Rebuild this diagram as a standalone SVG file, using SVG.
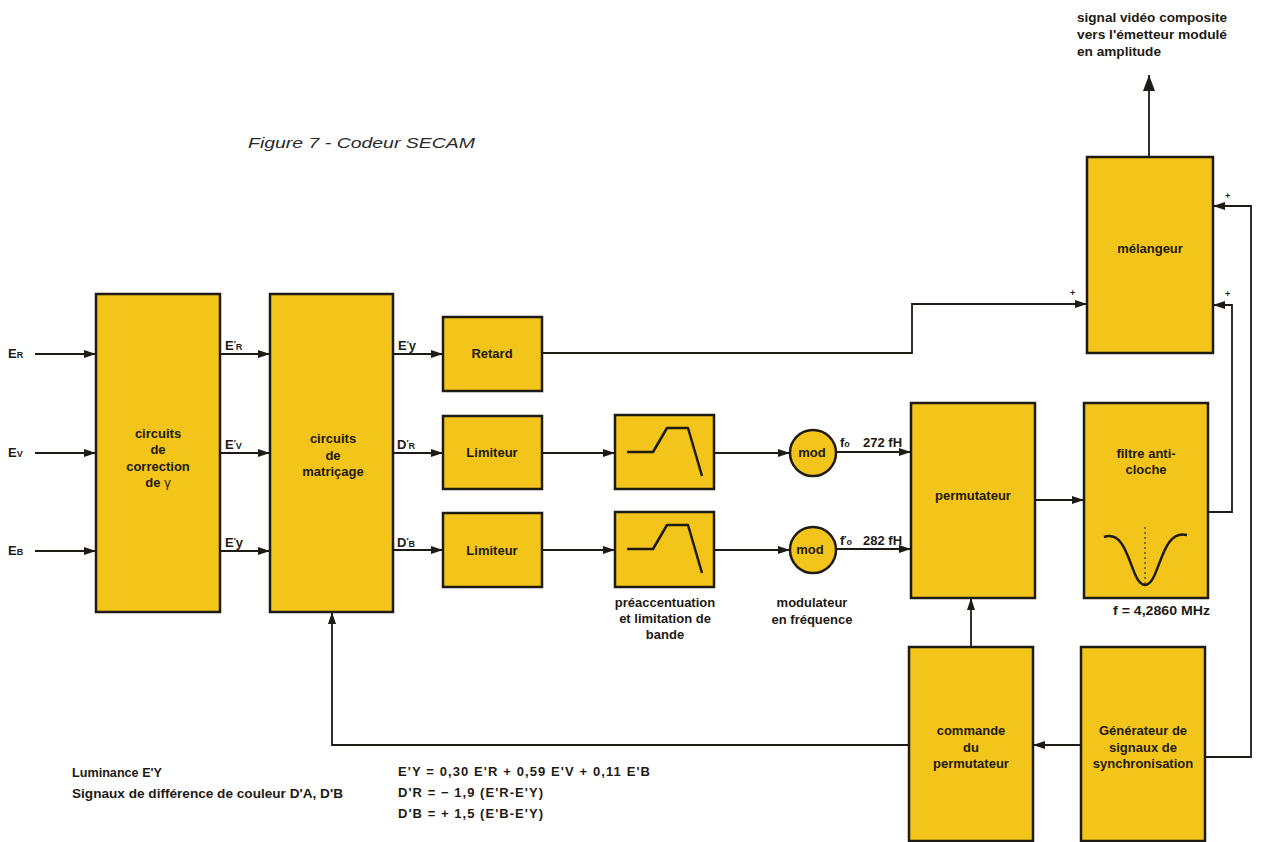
<svg xmlns="http://www.w3.org/2000/svg" width="1263" height="842" viewBox="0 0 1263 842">
<style>
.box{fill:#F3C51B;stroke:#1e1a14;stroke-width:2.5}
.t{font-family:"Liberation Sans",Arial,sans-serif;font-weight:bold;font-size:13px;fill:#1e1a14}
.tc{text-anchor:middle}
.s{font-size:9px}
.w{stroke:#1e1a14;stroke-width:1.8;fill:none}
.sym{stroke:#1e1a14;stroke-width:2.5;fill:none;stroke-linejoin:round}
</style>
<defs>
<marker id="ah" viewBox="0 0 12 8" refX="12" refY="4" markerWidth="12" markerHeight="8" markerUnits="userSpaceOnUse" orient="auto">
<path d="M0,0 L12,4 L0,8 Z" fill="#1e1a14"/>
</marker>
<marker id="ahb" viewBox="0 0 16 12" refX="16" refY="6" markerWidth="16" markerHeight="12" markerUnits="userSpaceOnUse" orient="auto">
<path d="M0,0 L16,6 L0,12 Z" fill="#1e1a14"/>
</marker>
</defs>
<rect width="1263" height="842" fill="#ffffff"/>

<text x="248" y="148" font-family="Liberation Sans,Arial,sans-serif" font-style="italic" font-size="15" fill="#2a2a2a" textLength="227" lengthAdjust="spacingAndGlyphs">Figure 7 - Codeur SECAM</text>

<g id="output-label" class="t">
<text x="1077" y="22" textLength="150" lengthAdjust="spacingAndGlyphs">signal vidéo composite</text>
<text x="1077" y="39" textLength="150" lengthAdjust="spacingAndGlyphs">vers l'émetteur modulé</text>
<text x="1077" y="56" textLength="84" lengthAdjust="spacingAndGlyphs">en amplitude</text>
</g>

<g id="connectors">
<path class="w" d="M35,354 H96" marker-end="url(#ah)"/>
<path class="w" d="M35,453 H96" marker-end="url(#ah)"/>
<path class="w" d="M35,551 H96" marker-end="url(#ah)"/>
<path class="w" d="M220,354 H270" marker-end="url(#ah)"/>
<path class="w" d="M220,453 H270" marker-end="url(#ah)"/>
<path class="w" d="M220,551 H270" marker-end="url(#ah)"/>
<path class="w" d="M393,354 H443" marker-end="url(#ah)"/>
<path class="w" d="M393,453 H443" marker-end="url(#ah)"/>
<path class="w" d="M393,550 H443" marker-end="url(#ah)"/>
<path class="w" d="M542,353 H912 V304 H1087" marker-end="url(#ah)"/>
<path class="w" d="M542,453 H615" marker-end="url(#ah)"/>
<path class="w" d="M542,550 H615" marker-end="url(#ah)"/>
<path class="w" d="M714,453 H790" marker-end="url(#ah)"/>
<path class="w" d="M714,550 H790" marker-end="url(#ah)"/>
<path class="w" d="M836,452 H911" marker-end="url(#ah)"/>
<path class="w" d="M836,549 H911" marker-end="url(#ah)"/>
<path class="w" d="M1035,500 H1084" marker-end="url(#ah)"/>
<path class="w" d="M1208,512 H1232 V305 H1213" marker-end="url(#ah)"/>
<path class="w" d="M1205,757 H1251 V206 H1213" marker-end="url(#ah)"/>
<path class="w" d="M1149,157 V75" stroke-width="3" marker-end="url(#ahb)"/>
<path class="w" d="M1081,745 H1033" marker-end="url(#ah)"/>
<path class="w" d="M909,745 H332 V612" marker-end="url(#ah)"/>
<path class="w" d="M971,647 V598" marker-end="url(#ah)"/>
</g>

<g id="signal-labels" class="t">
<text x="8" y="358">E<tspan class="s">R</tspan></text>
<text x="8" y="457">E<tspan class="s">V</tspan></text>
<text x="8" y="555">E<tspan class="s">B</tspan></text>
<text x="225" y="350">E<tspan class="s" dy="-3">′</tspan><tspan class="s" dy="3">R</tspan></text>
<text x="225" y="449">E<tspan class="s" dy="-3">′</tspan><tspan class="s" dy="3">V</tspan></text>
<text x="225" y="547">E<tspan class="s" dy="-3">′</tspan><tspan dy="3">y</tspan></text>
<text x="398" y="350">E<tspan class="s" dy="-3">′</tspan><tspan dy="3">y</tspan></text>
<text x="397" y="449">D<tspan class="s" dy="-3">′</tspan><tspan class="s" dy="3">R</tspan></text>
<text x="397" y="547">D<tspan class="s" dy="-3">′</tspan><tspan class="s" dy="3">B</tspan></text>
<text x="840" y="447">f<tspan class="s">o</tspan><tspan x="863">272 fH</tspan></text>
<text x="840" y="545">f<tspan class="s" dy="-3">′</tspan><tspan class="s" dy="3">o</tspan><tspan x="863">282 fH</tspan></text>
<text x="1070" y="296" class="s">+</text>
<text x="1225" y="199" class="s">+</text>
<text x="1225" y="297" class="s">+</text>
</g>

<g id="gamma">
<rect class="box" x="96" y="294" width="124" height="318"/>
<text class="t tc" x="158" y="438">circuits</text>
<text class="t tc" x="158" y="454">de</text>
<text class="t tc" x="158" y="471">correction</text>
<text class="t tc" x="158" y="487">de <tspan font-weight="normal">γ</tspan></text>
</g>

<g id="matrice">
<rect class="box" x="270" y="294" width="123" height="318"/>
<text class="t tc" x="333" y="443">circuits</text>
<text class="t tc" x="333" y="460">de</text>
<text class="t tc" x="333" y="476">matriçage</text>
</g>

<g id="retard">
<rect class="box" x="443" y="317" width="99" height="74"/>
<text class="t tc" x="492" y="358">Retard</text>
</g>

<g id="limiteur1">
<rect class="box" x="443" y="416" width="99" height="73"/>
<text class="t tc" x="492" y="457">Limiteur</text>
</g>

<g id="limiteur2">
<rect class="box" x="443" y="513" width="99" height="74"/>
<text class="t tc" x="492" y="555">Limiteur</text>
</g>

<g id="preacc1">
<rect class="box" x="615" y="415" width="99" height="74"/>
<polyline class="sym" points="627,452 653,452 667,428 688,428 702,476"/>
</g>

<g id="preacc2">
<rect class="box" x="615" y="512" width="99" height="75"/>
<polyline class="sym" points="627,549 653,549 667,525 688,525 702,573"/>
</g>

<g id="preacc-label" class="t tc">
<text x="665" y="607">préaccentuation</text>
<text x="665" y="623">et limitation de</text>
<text x="665" y="639">bande</text>
</g>

<g id="mod1">
<circle class="box" cx="813" cy="453" r="23"/>
<text class="t tc" x="812" y="457">mod</text>
</g>

<g id="mod2">
<circle class="box" cx="813" cy="550" r="23"/>
<text class="t tc" x="810" y="554">mod</text>
</g>

<g id="mod-label" class="t tc">
<text x="812" y="607">modulateur</text>
<text x="812" y="624">en fréquence</text>
</g>

<g id="permutateur">
<rect class="box" x="911" y="403" width="124" height="195"/>
<text class="t tc" x="973" y="500">permutateur</text>
</g>

<g id="filtre">
<rect class="box" x="1084" y="403" width="124" height="195"/>
<text class="t tc" x="1146" y="458">filtre anti-</text>
<text class="t tc" x="1146" y="474">cloche</text>
<path class="sym" d="M1104,537 C1130,528 1130,585 1145,585 C1160,585 1160,528 1187,535"/>
<line x1="1145" y1="527" x2="1145" y2="585" stroke="#1e1a14" stroke-width="1" stroke-dasharray="2,3"/>
<text class="t" x="1113" y="615" textLength="97" lengthAdjust="spacingAndGlyphs">f = 4,2860 MHz</text>
</g>

<g id="melangeur">
<rect class="box" x="1087" y="157" width="126" height="196"/>
<text class="t tc" x="1150" y="253">mélangeur</text>
</g>

<g id="commande">
<rect class="box" x="909" y="647" width="124" height="194"/>
<text class="t tc" x="971" y="735">commande</text>
<text class="t tc" x="971" y="752">du</text>
<text class="t tc" x="971" y="768">permutateur</text>
</g>

<g id="generateur">
<rect class="box" x="1081" y="647" width="124" height="194"/>
<text class="t tc" x="1143" y="735">Générateur de</text>
<text class="t tc" x="1143" y="752">signaux de</text>
<text class="t tc" x="1143" y="768">synchronisation</text>
</g>

<g id="legend" class="t">
<text x="72" y="777" textLength="90" lengthAdjust="spacingAndGlyphs">Luminance E'Y</text>
<text x="72" y="798" textLength="271" lengthAdjust="spacingAndGlyphs">Signaux de différence de couleur D'A, D'B</text>
<text x="398" y="776" textLength="252">E'Y = 0,30 E'R + 0,59 E'V + 0,11 E'B</text>
<text x="398" y="797" textLength="145">D'R = − 1,9 (E'R-E'Y)</text>
<text x="398" y="818" textLength="145">D'B = + 1,5 (E'B-E'Y)</text>
</g>
</svg>
